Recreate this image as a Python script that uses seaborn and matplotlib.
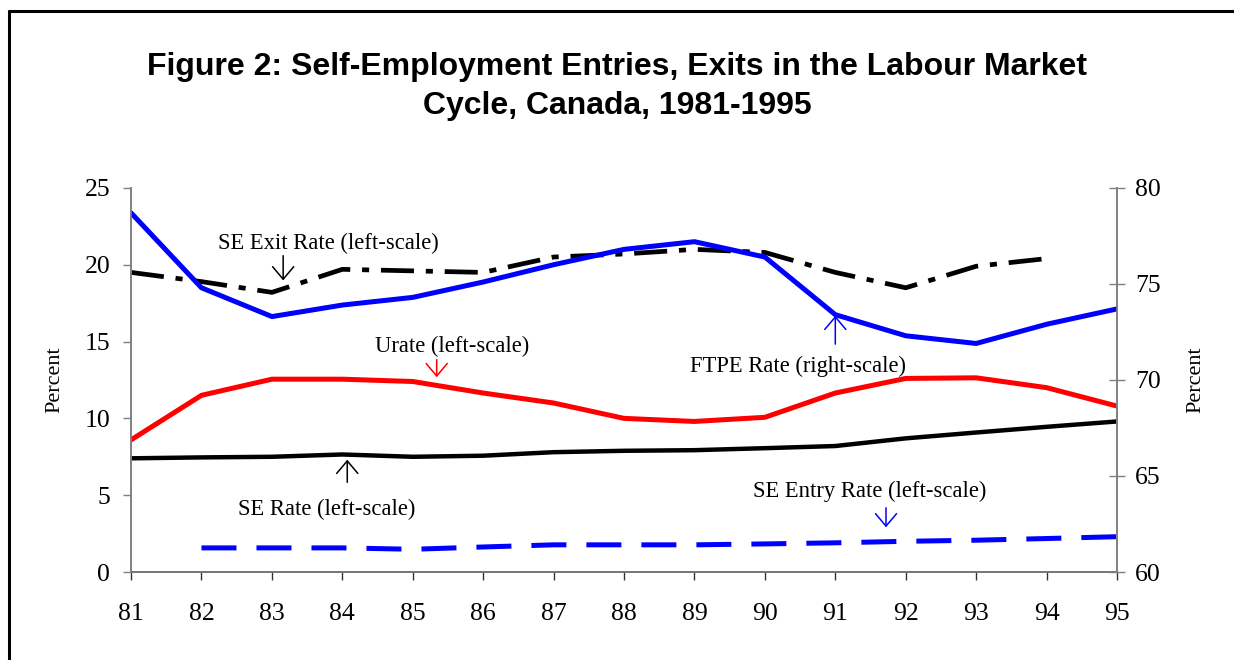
import pandas as pd
import matplotlib.pyplot as plt
import seaborn as sns
from matplotlib.lines import Line2D

sns.set_style("white")
plt.rcParams["font.family"] = ["Liberation Serif", "DejaVu Serif"]
plt.rcParams["text.color"] = "black"

# Datos
years = [81, 82, 83, 84, 85, 86, 87, 88, 89, 90, 91, 92, 93, 94, 95]
se_exit = [19.5, 18.9, 18.2, 19.7, 19.6, 19.5, 20.5, 20.7, 21.0, 20.8, 19.5, 18.5, 19.9, 20.4, None]
urate = [8.6, 11.5, 12.55, 12.55, 12.4, 11.65, 11.0, 10.0, 9.8, 10.07, 11.65, 12.6, 12.64, 12.0, 10.8]
se_rate = [7.4, 7.46, 7.5, 7.65, 7.5, 7.57, 7.8, 7.89, 7.93, 8.06, 8.2, 8.7, 9.08, 9.45, 9.8]
se_entry = [None, 1.57, 1.57, 1.57, 1.48, 1.63, 1.77, 1.77, 1.77, 1.83, 1.9, 2.0, 2.07, 2.18, 2.3]
ftpe = [78.7, 74.8, 73.3, 73.9, 74.3, 75.1, 76.0, 76.8, 77.2, 76.4, 73.4, 72.3, 71.9, 72.9, 73.7]

data = pd.DataFrame({"year": years, "exit": se_exit, "urate": urate,
                     "serate": se_rate, "entry": se_entry, "ftpe": ftpe})

fig = plt.figure(figsize=(12.34, 6.6), dpi=100)
ax = fig.add_axes([0.1062, 0.1333, 0.799, 0.582])
ax2 = ax.twinx()

sns.lineplot(data=data, x="year", y="exit", ax=ax, color="black", lw=3.4,
             linestyle=(0, (7, 2.5, 1.5, 2.5)))
sns.lineplot(data=data, x="year", y="urate", ax=ax, color="#ff0000", lw=3.6)
sns.lineplot(data=data, x="year", y="serate", ax=ax, color="black", lw=3.2)
sns.lineplot(data=data, x="year", y="entry", ax=ax, color="#0000ff", lw=3.6,
             linestyle=(0, (7, 4)))
sns.lineplot(data=data, x="year", y="ftpe", ax=ax2, color="#0000ff", lw=3.6)

ax.set_xlim(81, 95)
ax.set_ylim(0, 25)
ax2.set_ylim(60, 80)
ax.set_xticks(years)
ax.set_yticks(range(0, 26, 5))
ax2.set_yticks(range(60, 81, 5))
ax.set_xlabel("")
ax.set_ylabel("Percent", fontsize=16, color="black")
ax2.set_ylabel("Percent", fontsize=16, color="black")
ax.yaxis.set_label_coords(-0.068, 0.5)
ax2.yaxis.set_label_coords(1.07, 0.5)

for a in (ax, ax2):
    a.spines["top"].set_visible(False)
    for s in ("left", "right", "bottom"):
        a.spines[s].set_color("#808080")
        a.spines[s].set_linewidth(1.2)
ax.spines["bottom"].set_color("#333333")
ax.tick_params(axis="y", direction="out", length=6, width=1, color="#808080",
               labelsize=18.5, labelcolor="black", pad=9, left=True)
ax.tick_params(axis="x", direction="out", length=6, width=1, color="#333333",
               labelsize=18.5, labelcolor="black", pad=16.5, bottom=True)
ax2.tick_params(axis="y", direction="inout", length=12, width=1, color="#808080",
                labelsize=18.5, labelcolor="black", pad=7, right=True)

# Anotaciones
notas = [
    ("SE Exit Rate (left-scale)", (83.16, 18.8), (83.16, 20.77), (83.8, 21.4), "black"),
    ("Urate (left-scale)", (85.34, 12.5), (85.34, 14.0), (85.56, 14.65), "#ff0000"),
    ("FTPE Rate (right-scale)", (91.0, 16.86), (91.0, 14.65), (90.47, 13.4), "#0000ff"),
    ("SE Rate (left-scale)", (84.07, 7.49), (84.07, 5.66), (83.78, 4.04), "black"),
    ("SE Entry Rate (left-scale)", (91.72, 2.73), (91.72, 4.36), (91.49, 5.27), "#0000ff"),
]
for texto, punta, cola, pos, col in notas:
    ax.annotate("", xy=punta, xytext=cola,
                arrowprops=dict(arrowstyle="->, head_length=0.45, head_width=0.38",
                                color=col, lw=1.1, mutation_scale=20))
    ax.text(pos[0], pos[1], texto, ha="center", va="center", fontsize=16.3, color="black")

fig.text(0.5, 0.869, "Figure 2: Self-Employment Entries, Exits in the Labour Market\nCycle, Canada, 1981-1995",
         ha="center", va="center", fontsize=23, fontweight="bold", color="black",
         family=["Liberation Sans", "DejaVu Sans"], linespacing=1.42)

# Marco
fig.add_artist(Line2D([0.0073, 0.0073], [0, 0.984], transform=fig.transFigure, color="black", lw=2.2))
fig.add_artist(Line2D([0.0073, 1.0], [0.984, 0.984], transform=fig.transFigure, color="black", lw=2.2))

fig.savefig("out.png", dpi=100)
